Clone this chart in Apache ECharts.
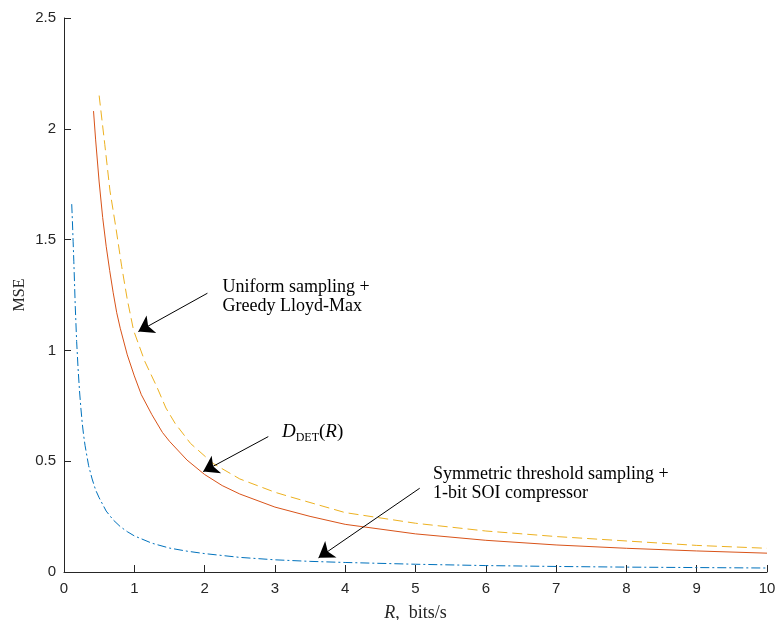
<!DOCTYPE html>
<html>
<head>
<meta charset="utf-8">
<script src="https://cdn.jsdelivr.net/npm/echarts@6/dist/echarts.min.js"></script>
<style>html,body{margin:0;padding:0;background:#fff}#c{width:775px;height:620px}</style>
</head>
<body>
<div id="c"></div>
<script>
// Symmetric threshold sampling + 1-bit SOI compressor (blue, dash-dot)
const blueR = [0.11,0.12,0.13,0.14,0.15,0.16,0.17,0.18,0.2,0.22,0.24,0.26,0.28,0.3,0.35,0.4,0.45,0.5,0.6,0.7,0.8,0.9,1.0,1.25,1.5,1.75,2,2.5,3,3.5,4,5,6,7,8,9,10];
const blueV = [1.66,1.58,1.49,1.40,1.30,1.20,1.12,1.04,0.92,0.82,0.74,0.67,0.615,0.57,0.48,0.42,0.37,0.335,0.275,0.235,0.205,0.182,0.163,0.13,0.108,0.094,0.083,0.066,0.055,0.048,0.043,0.035,0.029,0.025,0.022,0.020,0.018];
// D_DET(R) (red, solid)
const redR = [0.42,0.45,0.5,0.55,0.6,0.65,0.7,0.75,0.8,0.9,1.0,1.1,1.25,1.4,1.5,1.75,2,2.25,2.5,3,3.5,4,5,6,7,8,9,10];
const redV = [2.08,1.95,1.76,1.60,1.47,1.36,1.26,1.17,1.10,0.98,0.885,0.80,0.71,0.63,0.59,0.505,0.44,0.39,0.352,0.293,0.251,0.215,0.172,0.143,0.122,0.107,0.095,0.085];
// Uniform sampling + Greedy Lloyd-Max (yellow, dashed)
const yelR = [0.5,0.58,0.654,0.74,0.82,0.9,0.99,1.15,1.32,1.45,1.58,1.8,2.12,2.5,3.0,3.21,4,5,6,7,8,9,10];
const yelV = [2.15,1.93,1.72,1.55,1.38,1.23,1.09,0.95,0.836,0.74,0.671,0.58,0.49,0.42,0.36,0.34,0.268,0.22,0.185,0.16,0.14,0.12,0.107];

const xTicks = [0,1,2,3,4,5,6,7,8,9,10];
const yTicks = [0,0.5,1,1.5,2,2.5];

// annotations: [tailR, tailV, tipR, tipV]
const arrows = [
  [2.04,1.258,1.057,1.085],
  [2.906,0.611,1.98,0.453],
  [5.06,0.378,3.62,0.064]
];
// text anchors (left, vertical middle of block)
const labelUniform = {R:2.256, V:1.243, lines:['Uniform sampling +','Greedy Lloyd-Max']};
const labelDet = {R:3.10, V:0.632};
const labelSym = {R:5.25, V:0.40, lines:['Symmetric threshold sampling +','1-bit SOI compressor']};

const pairs = (xs, ys) => xs.map((x,i)=>[x, ys[i]]);
const serif = '"Liberation Serif", "DejaVu Serif", serif';
const sans = '"Liberation Sans", Arial, sans-serif';
const axisCol = '#262626';

const chart = echarts.init(document.getElementById('c'));
chart.setOption({
  animation:false,
  backgroundColor:'#fff',
  grid:{left:64,right:8,top:18,bottom:48,containLabel:false,outerBoundsMode:'none'},
  xAxis:{type:'value',min:0,max:10,interval:1,
    name:'{i|R},  bits/s',nameLocation:'middle',nameGap:32,nameMoveOverlap:false,
    nameTextStyle:{fontFamily:serif,fontSize:18,color:axisCol,rich:{i:{fontFamily:serif,fontStyle:'italic',fontSize:18,color:axisCol}}},
    axisLine:{show:true,lineStyle:{color:axisCol,width:1}},
    axisTick:{show:true,inside:true,length:7,lineStyle:{color:axisCol}},
    axisLabel:{color:axisCol,fontFamily:sans,fontSize:15,margin:9,
      formatter:v=>xTicks.includes(v)?String(v):''},
    splitLine:{show:false}},
  yAxis:{type:'value',min:0,max:2.5,interval:0.5,
    name:'MSE',nameLocation:'middle',nameGap:36,nameMoveOverlap:false,
    nameTextStyle:{fontFamily:serif,fontSize:16,color:axisCol},
    axisLine:{show:true,lineStyle:{color:axisCol,width:1}},
    axisTick:{show:true,inside:true,length:7,lineStyle:{color:axisCol}},
    axisLabel:{color:axisCol,fontFamily:sans,fontSize:15,margin:8,
      formatter:v=>yTicks.includes(v)?String(v):''},
    splitLine:{show:false}},
  series:[
    {type:'line',data:pairs(blueR,blueV),showSymbol:false,
      lineStyle:{color:'#0072BD',width:1,type:[9,3,2,3]},z:3},
    {type:'line',data:pairs(redR,redV),showSymbol:false,
      lineStyle:{color:'#D95319',width:1,type:'solid'},z:3},
    {type:'line',data:pairs(yelR,yelV),showSymbol:false,
      lineStyle:{color:'#EDB120',width:1,type:[10,5]},z:3},
    {type:'line',data:[],z:5,silent:true,
      markLine:{silent:true,animation:false,symbol:['none','arrow'],symbolSize:15,
        label:{show:false},
        lineStyle:{color:'#000',width:1,type:'solid'},
        data:arrows.map(a=>[{coord:[a[0],a[1]]},{coord:[a[2],a[3]]}])},
      markPoint:{silent:true,animation:false,symbol:'circle',symbolSize:0,
        data:[
          {coord:[labelUniform.R,labelUniform.V],label:{show:true,position:'right',distance:0,
            formatter:labelUniform.lines.join('\n'),fontFamily:serif,fontSize:18,lineHeight:19,color:'#000',align:'left'}},
          {coord:[labelSym.R,labelSym.V],label:{show:true,position:'right',distance:0,
            formatter:labelSym.lines.join('\n'),fontFamily:serif,fontSize:18,lineHeight:19,color:'#000',align:'left'}},
          {coord:[labelDet.R,labelDet.V],label:{show:true,position:'right',distance:0,
            formatter:'{i|D}{s|DET}{n|(}{i|R}{n|)}',color:'#000',
            rich:{i:{fontFamily:serif,fontStyle:'italic',fontSize:19,lineHeight:24,verticalAlign:'middle',color:'#000'},
                  n:{fontFamily:serif,fontSize:19,lineHeight:24,verticalAlign:'middle',color:'#000'},
                  s:{fontFamily:serif,fontSize:12,lineHeight:12,verticalAlign:'bottom',color:'#000'}}}}
        ]}}
  ]
});
</script>
</body>
</html>
